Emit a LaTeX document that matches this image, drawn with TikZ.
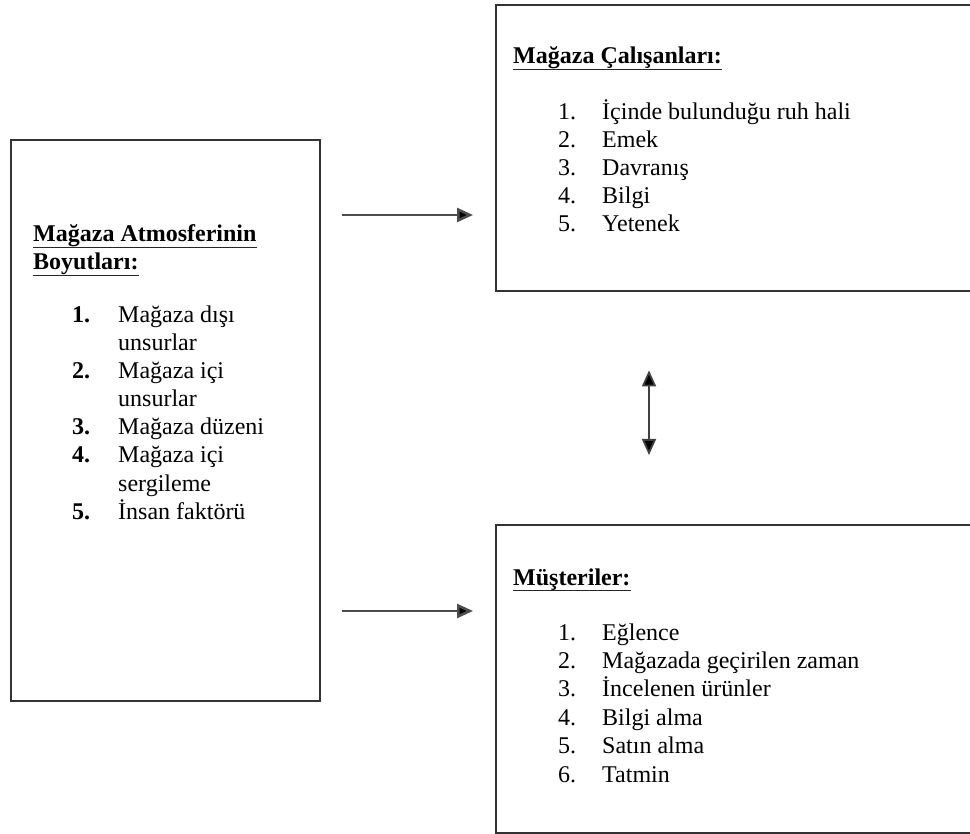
\documentclass[tikz,border=0pt]{standalone}
\usepackage{fontspec}
\setmainfont{Liberation Serif}
\usetikzlibrary{arrows.meta}
\begin{document}
\begin{tikzpicture}[x=1pt,y=-1pt,
  panel/.style={draw=black!80, line width=2.4pt, anchor=north west, inner sep=0pt},
  txt/.style={anchor=base west, inner sep=0pt, font=\fontsize{24}{28}\selectfont},
  head/.style={anchor=base west, inner sep=0pt, font=\fontsize{24}{28}\selectfont\bfseries},
  uline/.style={line width=1.8pt, black!85},
  tip/.style={Triangle[length=16pt,width=14pt,fill=black]},
  link/.style={draw=black!70, line width=2.6pt, -{Triangle[length=16pt,width=14pt,fill=black]}},
  both/.style={draw=black!75, line width=1.8pt, {Triangle[length=16pt,width=14pt,fill=black]}-{Triangle[length=16pt,width=14pt,fill=black]}}
]
\useasboundingbox (0,0) rectangle (970,834);

% the three boxes
\node[panel, minimum width=309pt, minimum height=561pt] (dims) at (10,139) {};
\node[panel, minimum width=475.5pt, minimum height=286pt] (staff) at (495,4) {};
\node[panel, minimum width=475.5pt, minimum height=308pt] (cust) at (495,524) {};

% store atmosphere dimensions
\node[head] (dh1) at (33,242) {Mağaza Atmosferinin};
\node[head] (dh2) at (33,270) {Boyutları:};
\draw[uline] ([yshift=-5.5pt]dh1.base west) -- ([yshift=-5.5pt]dh1.base east);
\draw[uline] ([yshift=-5.5pt]dh2.base west) -- ([yshift=-5.5pt]dh2.base east);
\foreach \n/\y in {1/323, 2/379, 3/435, 4/463, 5/519}
  \node[head] (dn\n) at (72,\y) {\n.};
\foreach \t [count=\k] in {Mağaza dışı, unsurlar, Mağaza içi, unsurlar, Mağaza düzeni, Mağaza içi, sergileme, İnsan faktörü}
  \node[txt] (dt\k) at (118,{323+28*(\k-1)}) {\t};

% store employees
\node[head] (sh) at (513,64) {Mağaza Çalışanları:};
\draw[uline] ([yshift=-5.5pt]sh.base west) -- ([yshift=-5.5pt]sh.base east);
\foreach \t [count=\k] in {İçinde bulunduğu ruh hali, Emek, Davranış, Bilgi, Yetenek}{
  \node[txt] (sn\k) at (558,{120+28*(\k-1)}) {\k.};
  \node[txt] (st\k) at (602,{120+28*(\k-1)}) {\t};
}

% customers
\node[head] (ch) at (513,585) {Müşteriler:};
\draw[uline] ([yshift=-5.5pt]ch.base west) -- ([yshift=-5.5pt]ch.base east);
\foreach \t [count=\k] in {Eğlence, Mağazada geçirilen zaman, İncelenen ürünler, Bilgi alma, Satın alma, Tatmin}{
  \node[txt] (cn\k) at (558,{640+28.4*(\k-1)}) {\k.};
  \node[txt] (ct\k) at (602,{640+28.4*(\k-1)}) {\t};
}

% connectors
\coordinate (ya) at (0,215);
\coordinate (yb) at (0,611);
\coordinate (vx) at (649,0);
\draw[link, shorten <=21pt, shorten >=22pt] (dims.east |- ya) -- (staff.west |- ya);
\draw[link, shorten <=21pt, shorten >=22pt] (dims.east |- yb) -- (cust.west |- yb);
\draw[both, shorten <=78pt, shorten >=69pt] (staff.south -| vx) -- (cust.north -| vx);
\end{tikzpicture}
\end{document}
